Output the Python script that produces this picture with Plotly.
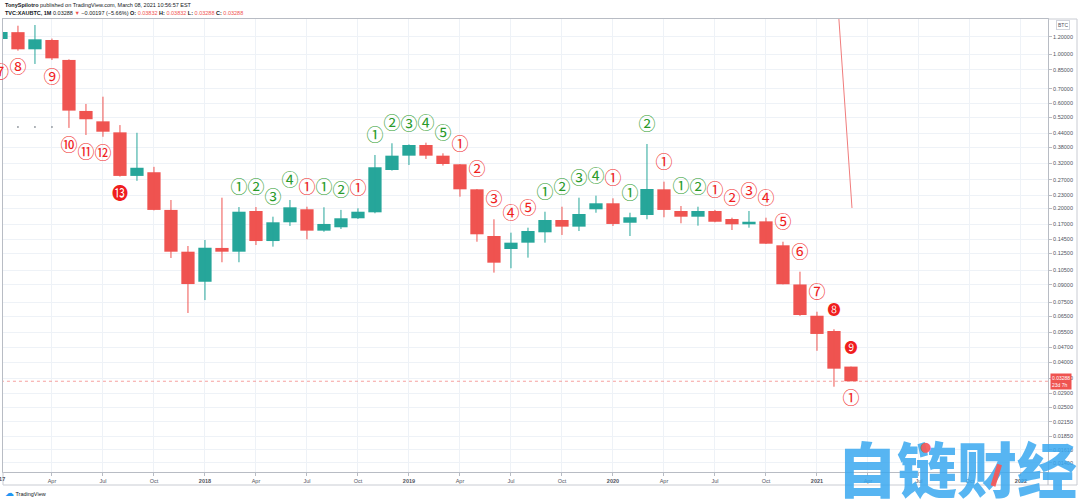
import math
import pandas as pd
import plotly.graph_objects as go

# ---------------- data (monthly XAU/BTC candles) ----------------
months = [str(p) for p in pd.period_range("2017-01", "2021-03", freq="M")]

opens = [1.175, 1.262, 1.055, 1.163, 0.944, 0.554, 0.497, 0.443, 0.281, 0.292, 0.197, 0.1273,
         0.0930, 0.1324, 0.1273, 0.1948, 0.1423, 0.1731, 0.1983, 0.1586, 0.1643, 0.1805, 0.1921, 0.2989,
         0.3472, 0.3882, 0.3472, 0.3173, 0.2443, 0.1500, 0.1309, 0.1399, 0.1559, 0.1773, 0.1654, 0.1983,
         0.2111, 0.1723, 0.1868, 0.2443, 0.1948, 0.1835, 0.1948, 0.1792, 0.1695, 0.1748, 0.1361, 0.0904,
         0.0652, 0.0556, 0.03832]
highs = [1.290, 1.350, 1.360, 1.180, 0.950, 0.596, 0.643, 0.478, 0.441, 0.309, 0.2185, 0.1351,
         0.1439, 0.2238, 0.2030, 0.2030, 0.1835, 0.2185, 0.2037, 0.2025, 0.1970, 0.2004, 0.3497, 0.3952,
         0.3906, 0.3977, 0.3559, 0.3180, 0.2450, 0.1786, 0.1553, 0.1636, 0.1933, 0.2037, 0.2238, 0.2286,
         0.2224, 0.1913, 0.3923, 0.2646, 0.2052, 0.2037, 0.1970, 0.1816, 0.1948, 0.1816, 0.1413, 0.1033,
         0.0680, 0.0566, 0.03832]
lows = [1.030, 1.040, 0.905, 0.944, 0.464, 0.431, 0.423, 0.279, 0.267, 0.196, 0.1192, 0.0671,
        0.0768, 0.1140, 0.1140, 0.1365, 0.1342, 0.1666, 0.1449, 0.1568, 0.1614, 0.1792, 0.1902, 0.2970,
        0.3150, 0.3354, 0.3130, 0.2262, 0.1413, 0.1023, 0.1071, 0.1196, 0.1399, 0.1516, 0.1580, 0.1913,
        0.1666, 0.1500, 0.1786, 0.1824, 0.1713, 0.1671, 0.1731, 0.1597, 0.1636, 0.1380, 0.0905, 0.0651,
        0.0452, 0.03106, 0.03288]
closes = [1.264, 1.055, 1.171, 0.960, 0.556, 0.508, 0.446, 0.281, 0.306, 0.197, 0.1273, 0.0908,
          0.1327, 0.1273, 0.1933, 0.1423, 0.1731, 0.2024, 0.1586, 0.1701, 0.1805, 0.1933, 0.3076, 0.3472,
          0.3882, 0.3472, 0.3183, 0.2443, 0.1527, 0.1135, 0.1399, 0.1580, 0.1773, 0.1654, 0.1888, 0.2111,
          0.1701, 0.1824, 0.2451, 0.1970, 0.1835, 0.1948, 0.1741, 0.1695, 0.1741, 0.1384, 0.0906, 0.0657,
          0.0539, 0.0375, 0.03288]

# TD sequential count labels
label_month = [0, 1, 3, 4, 5, 6, 7] + list(range(14, 51)) + [50]
label_text = ["⑦", "⑧", "⑨", "⑩", "⑪", "⑫", "⓭",
              "①", "②", "③", "④", "①", "①", "②", "①",
              "①", "②", "③", "④", "⑤", "①", "②", "③", "④", "⑤",
              "①", "②", "③", "④", "①", "①", "②", "①", "①", "②",
              "①", "②", "③", "④", "⑤", "⑥", "⑦", "❽", "❾", "①"]
label_kind = (["sell"] * 7 +
              ["buy"] * 4 + ["sell"] + ["buy"] * 2 + ["sell"] +
              ["buy"] * 5 + ["sell"] * 5 + ["buy"] * 4 + ["sell"] +
              ["buy"] * 2 + ["sell"] + ["buy"] * 2 + ["sell"] * 9 + ["sell"])
label_side = ["below"] * 7 + ["above"] * 37 + ["below"]

# faint indicator dots
dot_months = [1, 2, 3]
dot_level = [0.469, 0.469, 0.469]

# drawn trend line
trend_x = [49.29, 50.06]
trend_y = [1.448, 0.201]

x_tick_labels = ["2017", "Apr", "Jul", "Oct", "2018", "Apr", "Jul", "Oct", "2019", "Apr", "Jul", "Oct",
                 "2020", "Apr", "Jul", "Oct", "2021", "Apr", "Jul", "Oct", "2022"]
y_tick_vals = [1.2, 1.0, 0.85, 0.7, 0.6, 0.52, 0.44, 0.38, 0.32, 0.27, 0.23, 0.2, 0.17, 0.145,
               0.125, 0.105, 0.09, 0.075, 0.065, 0.055, 0.047, 0.04, 0.034, 0.029, 0.025,
               0.0215, 0.0185, 0.0161, 0.014]

last_close = closes[-1]

# ---------------- styling ----------------
UP = "#26a69a"
DOWN = "#ef5350"
TXT_GREEN = "#2a9a2a"
TXT_RED = "#f01e1e"
GRID = "#eef2f7"
AXLINE = "#b8bcc4"
FONT = "Liberation Sans, Arial, sans-serif"
LABEL_FONT = "Noto Sans CJK SC, DejaVu Sans"
WM_RED = "rgba(245,90,90,0.95)"

X_RANGE = [0.12, 61.59]
L, R, T, B = 3, 32, 19, 29
W, H = 1080, 501
pw, ph = W - L - R, H - T - B


def px_x(p):
    return (p - L) / pw


def px_y(p):
    return (H - B - p) / ph


x = list(range(len(months)))
fig = go.Figure()

# wicks
for up in (True, False):
    wx, wy = [], []
    for i in x:
        if (closes[i] >= opens[i]) == up:
            wx += [i, i, None]
            wy += [lows[i], highs[i], None]
    fig.add_trace(go.Scatter(x=wx, y=wy, mode="lines",
                             line=dict(color=UP if up else DOWN, width=1),
                             hoverinfo="skip"))

# bodies
for up in (True, False):
    bx, bbase, bh = [], [], []
    for i in x:
        if (closes[i] >= opens[i]) == up:
            lo_b, hi_b = min(opens[i], closes[i]), max(opens[i], closes[i])
            bx.append(i)
            bbase.append(lo_b)
            bh.append(hi_b - lo_b)
    fig.add_trace(go.Bar(x=bx, y=bh, base=bbase, width=0.78,
                         marker=dict(color=UP if up else DOWN, line=dict(width=0)),
                         hoverinfo="skip"))

# last price dotted line
fig.add_trace(go.Scatter(x=[0, 62], y=[last_close, last_close], mode="lines",
                         line=dict(color="rgba(239,83,80,0.55)", width=1, dash="dot"),
                         hoverinfo="skip"))

# drawn red trend line
fig.add_trace(go.Scatter(x=trend_x, y=trend_y, mode="lines",
                         line=dict(color="#f07c7c", width=1), hoverinfo="skip"))

# indicator dots
fig.add_trace(go.Scatter(x=dot_months, y=dot_level, mode="markers",
                         marker=dict(color="#9aa0a6", size=2), hoverinfo="skip"))

# TD count labels
lx, ly, lt, lc, ls = [], [], [], [], []
edge_labels = []
for m, t, k, s in zip(label_month, label_text, label_kind, label_side):
    yv = highs[m] * 1.21 if s == "above" else lows[m] * 0.825
    col = TXT_GREEN if k == "buy" else TXT_RED
    size = 13 if t in ("❽", "❾") else (16 if t == "⓭" else 17)
    if m < X_RANGE[0]:
        edge_labels.append((m, yv, t, col, size))
        continue
    lx.append(m)
    ly.append(yv)
    lt.append(t)
    lc.append(col)
    ls.append(size)
fig.add_trace(go.Scatter(x=lx, y=ly, mode="text", text=lt,
                         textfont=dict(color=lc, size=ls, family=LABEL_FONT),
                         textposition="middle center", cliponaxis=False, hoverinfo="skip"))

# labels whose month sits just left of the visible window (partly cut by the page edge)
for m, yv, t, col, size in edge_labels:
    frac = (m - X_RANGE[0]) / (X_RANGE[1] - X_RANGE[0])
    fig.add_annotation(xref="paper", yref="y", x=frac, y=math.log10(yv), xanchor="center",
                       yanchor="middle", showarrow=False, text=t,
                       font=dict(color=col, size=size, family=LABEL_FONT))

# ---------------- layout ----------------
ymin, ymax = 0.01274, 1.448
fig.update_layout(
    width=W, height=H,
    margin=dict(l=L, r=R, t=T, b=B),
    paper_bgcolor="white", plot_bgcolor="white",
    showlegend=False,
    font=dict(family=FONT, size=6, color="#131722"),
    xaxis=dict(range=X_RANGE,
               tickmode="array",
               tickvals=[3 * i for i in range(len(x_tick_labels))],
               ticktext=[f"<b>{t}</b>" if t.isdigit() else t for t in x_tick_labels],
               showgrid=True, gridcolor=GRID, gridwidth=1,
               showline=True, linecolor=AXLINE, linewidth=1, mirror=True,
               ticks="outside", ticklen=3, tickcolor=AXLINE,
               tickfont=dict(size=5.5, color="#50535e"), zeroline=False,
               fixedrange=True),
    yaxis=dict(type="log", range=[math.log10(ymin), math.log10(ymax)], side="right",
               tickmode="array", tickvals=y_tick_vals,
               ticktext=[f"{v:.5f}" for v in y_tick_vals],
               showgrid=True, gridcolor=GRID, gridwidth=1,
               showline=True, linecolor=AXLINE, linewidth=1, mirror=True,
               ticks="outside", ticklen=3, tickcolor=AXLINE,
               tickfont=dict(size=5.5, color="#50535e"), zeroline=False,
               fixedrange=True),
)

# outer frame
fig.add_shape(type="line", xref="paper", yref="paper", x0=px_x(3), x1=px_x(1077),
              y0=px_y(485), y1=px_y(485), line=dict(color="#c9ccd3", width=1))
fig.add_shape(type="line", xref="paper", yref="paper", x0=px_x(3), x1=px_x(3),
              y0=px_y(472), y1=px_y(485), line=dict(color="#c9ccd3", width=1))
fig.add_shape(type="line", xref="paper", yref="paper", x0=px_x(1077), x1=px_x(1077),
              y0=px_y(19), y1=px_y(485), line=dict(color="#c9ccd3", width=1))
fig.add_shape(type="line", xref="paper", yref="paper", x0=px_x(1048), x1=px_x(1077),
              y0=px_y(19), y1=px_y(19), line=dict(color="#c9ccd3", width=1))
fig.add_shape(type="line", xref="paper", yref="paper", x0=1, x1=1,
              y0=px_y(472), y1=px_y(485), line=dict(color=AXLINE, width=1))

# header
fig.add_annotation(xref="paper", yref="paper", x=px_x(3), y=px_y(5), xanchor="left", yanchor="middle",
                   showarrow=False, font=dict(size=5.5, color="#131722", family=FONT),
                   text="<b>TonySpilotro</b> published on TradingView.com, March 08, 2021 10:56:57 EST")
red = DOWN
fig.add_annotation(xref="paper", yref="paper", x=px_x(3), y=px_y(13), xanchor="left", yanchor="middle",
                   showarrow=False, font=dict(size=5.5, color="#131722", family=FONT),
                   text=(f"<b>TVC:XAUBTC, 1M</b> {last_close:.5f} <span style='color:{red}'>▼</span> "
                         f"−0.00197 (−5.66%) <b>O:</b> <span style='color:{red}'>{opens[-1]:.5f}</span> "
                         f"<b>H:</b> <span style='color:{red}'>{highs[-1]:.5f}</span> "
                         f"<b>L:</b> <span style='color:{red}'>{lows[-1]:.5f}</span> "
                         f"<b>C:</b> <span style='color:{red}'>{last_close:.5f}</span>"))

# partially visible first year label
fig.add_annotation(xref="paper", yref="paper", x=px_x(-1), y=px_y(479), xanchor="center", yanchor="middle",
                   showarrow=False, font=dict(size=5.5, color="#50535e", family=FONT), text="<b>2017</b>")

# last price tag
fig.add_annotation(xref="paper", yref="y", x=px_x(1050), y=math.log10(last_close),
                   xanchor="left", yanchor="middle", showarrow=False,
                   bgcolor=DOWN, borderpad=1, align="left",
                   font=dict(size=5, color="white", family=FONT),
                   text=f"{last_close:.5f}<br>23d 7h")

# BTC currency tag
fig.add_annotation(xref="paper", yref="paper", x=px_x(1063), y=px_y(25), xanchor="center", yanchor="middle",
                   showarrow=False, bgcolor="white", bordercolor="#d1d4dc", borderwidth=1, borderpad=1,
                   font=dict(size=5, color="#50535e", family=FONT), text="BTC")

# TradingView footer
fig.add_annotation(xref="paper", yref="paper", x=px_x(3), y=px_y(493), xanchor="left", yanchor="middle",
                   showarrow=False, font=dict(size=5.5, color="#131722", family=FONT),
                   text="<span style='color:#2196f3;font-size:9px'>☁</span> TradingView")

# watermark (blue text with two red accents drawn on top of it)
fig.add_annotation(xref="paper", yref="paper", x=px_x(957), y=px_y(466), xanchor="center", yanchor="middle",
                   showarrow=False,
                   font=dict(size=60, color="rgba(58,168,240,0.85)", family="Noto Sans CJK SC", weight=900),
                   text="自链财经")
fig.add_annotation(xref="paper", yref="paper", x=px_x(925), y=px_y(446), xanchor="center", yanchor="middle",
                   showarrow=False, font=dict(size=13, color=WM_RED, family="DejaVu Sans"), text="●")
fig.add_annotation(xref="paper", yref="paper", x=px_x(993), y=px_y(486), ax=7, ay=-23,
                   showarrow=True, arrowhead=0, arrowwidth=5, arrowcolor=WM_RED, text="",
                   standoff=0, startstandoff=0)

fig.write_html("out.html")
